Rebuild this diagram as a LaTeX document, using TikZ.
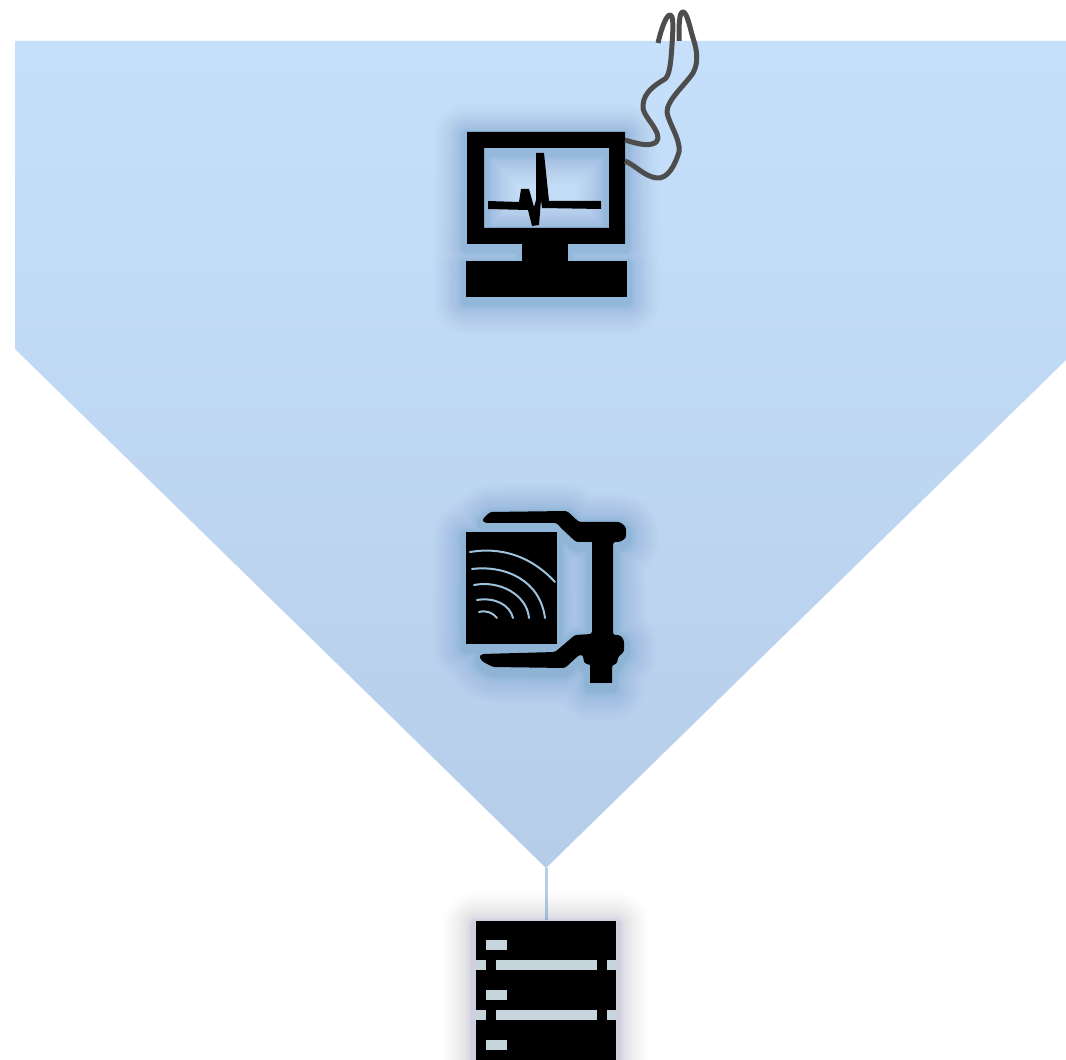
\documentclass[tikz,border=0pt]{standalone}
\usepackage{xcolor}
\usetikzlibrary{calc}

\definecolor{funneltop}{HTML}{C6E0FC}
\definecolor{funnelbot}{HTML}{B6CDE9}
\definecolor{stemblue}{HTML}{B9CFE8}
\definecolor{wiregray}{HTML}{4D4D4D}
\definecolor{wavecol}{HTML}{9CC2DE}
\definecolor{slotcol}{HTML}{C6D4DB}
\definecolor{shadowcol}{HTML}{16466E}

% soft shadow: stacked see-through strokes, packed closer near the outline
\newcommand{\softshadow}[1]{
  \foreach \i in {1,...,24} {
    \path[draw=shadowcol, line join=round, draw opacity=0.009,
      line width=(10+56*(\i/24)^2)*0.02cm, shift={(0,4)}] #1;
  }
}

\begin{document}
\begin{tikzpicture}[x=0.02cm, y=-0.02cm,
  wire/.style={draw=wiregray, line width=0.1cm, line join=round},
  wave/.style={draw=wavecol, line width=0.04cm, line cap=round},
  slot/.style={fill=slotcol}]

\useasboundingbox[fill=white] (0,0) rectangle (1066,1060);

% Funnel
\shade[top color=funneltop, bottom color=funnelbot]
  (15,41) -- (1066,41) -- (1066,360) -- (546,868) -- (15,349) -- cycle;

% Stem from funnel tip to server
\coordinate (funneltip) at (546,868);
\coordinate (servertop) at (546,920);
\draw[stemblue, line width=0.06cm] (funneltip) -- (servertop);

% Monitor
\softshadow{(467,132) rectangle (625,244) (484,148) rectangle (609,228)
  (522,244) rectangle (568,262) (466,261) rectangle (627,297)}
\fill[black, even odd rule] (467,132) rectangle (625,244) (484,148) rectangle (609,228);
\fill[black] (522,244) rectangle (568,262);
\fill[black] (466,261) rectangle (627,297);

% Trace on the screen
\fill[black] (488,201) -- (519,202) -- (521,189) -- (529,189) -- (534,207) -- (536,200)
  -- (536,153) -- (544,153) -- (549,201) -- (601,201) -- (601,209) -- (542,208)
  -- (541,200) -- (539,225) -- (532,226) -- (528,210) -- (488,209) -- cycle;

% Leads
\draw[wire] (625,140) .. controls (635,143) and (645,146) .. (652,144)
  .. controls (660,142) and (659,136) .. (655,129)
  .. controls (650,120) and (642,113) .. (643,105)
  .. controls (644,92) and (655,85) .. (665,79)
  .. controls (670,75) and (671,60) .. (672,45)
  .. controls (673,30) and (674,15) .. (670,15)
  .. controls (666,15) and (661,30) .. (658,43);
\draw[wire] (625,161) .. controls (635,165) and (645,177) .. (657,178)
  .. controls (668,179) and (675,165) .. (679,152)
  .. controls (681,140) and (668,122) .. (667,112)
  .. controls (667,100) and (685,85) .. (693,73)
  .. controls (699,62) and (697,50) .. (693,38)
  .. controls (690,28) and (687,12) .. (683,12)
  .. controls (679,12) and (679,25) .. (679,41);

% Clamp and panel
\def\clamppath{[rounded corners=0.05cm] (482,520) -- (490,512) -- (567,511) -- (579,522) -- (620,522) -- (626,527)
  -- (626,538) -- (620,542) -- (613,542) -- (613,635) -- (620,635) -- (624,640)
  -- (624,652) -- (618,657) -- (617,664) -- (612,665) [sharp corners] -- (612,683) -- (590,683)
  -- (590,665) [rounded corners=0.05cm] -- (584,663) -- (583,655) -- (579,655) -- (565,668) -- (493,667)
  -- (483,662) -- (479,657) -- (482,654) -- (555,652) -- (575,635) -- (592,634)
  [sharp corners] -- (592,542) [rounded corners=0.05cm] -- (576,542) -- (560,527) -- (557,523) -- (485,523) -- cycle}
\softshadow{\clamppath [sharp corners] (466,532) rectangle (557,644)}
\fill[black] \clamppath;
\fill[black] (466,532) rectangle (557,644);

% Waves on the panel
\draw[wave] (470,552) .. controls (500,547) and (530,555) .. (555,582);
\draw[wave] (472,569) .. controls (505,565) and (540,580) .. (545,618);
\draw[wave] (474,585) .. controls (500,580) and (527,595) .. (529,618);
\draw[wave] (477,600) .. controls (495,597) and (510,605) .. (513,618);
\draw[wave] (479,612) .. controls (487,610) and (493,613) .. (497,618);

% Server rack
\softshadow{(476,921) rectangle (616,1075)}
\fill[black] (476,921) rectangle (616,1075);
\foreach \y in {960,1010} {
  \fill[slot] (476,\y) rectangle (486,\y+10);
  \fill[slot] (496,\y) rectangle (597,\y+10);
  \fill[slot] (607,\y) rectangle (616,\y+10);
}
\foreach \y in {940,990,1040} {
  \fill[slot] (486,\y) rectangle (507,\y+10);
}

\end{tikzpicture}
\end{document}
